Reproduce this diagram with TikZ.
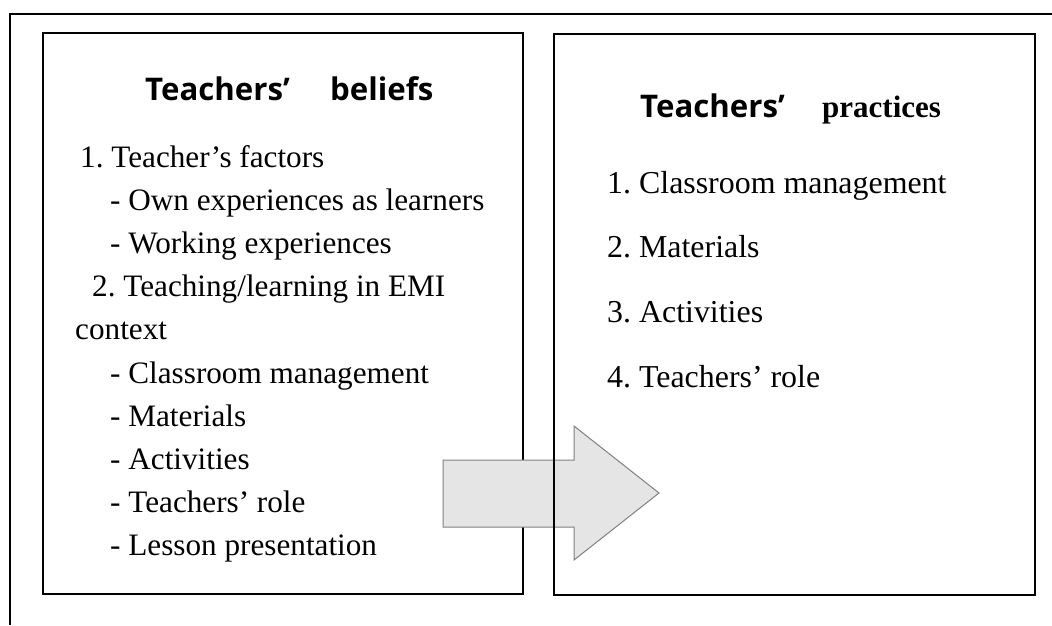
\documentclass[tikz,border=0pt]{standalone}
\usepackage{fontspec}
\setmainfont{Liberation Serif}
\newfontfamily\headsans{Open Sans}[UprightFont={* Bold}]
\frenchspacing
\begin{document}
\begin{tikzpicture}[x=1pt,y=-1pt,
  frameline/.style={line width=1.6pt,black},
  boxline/.style={line width=2pt,black},
  bigarrow/.style={draw=black!50,line width=1pt,fill=black!10},
  item/.style={anchor=base west,inner sep=0pt,font=\fontsize{31.2}{31.2}\selectfont},
  pitem/.style={anchor=base west,inner sep=0pt,font=\fontsize{31.9}{31.9}\selectfont},
  headA/.style={anchor=base west,inner sep=0pt,font=\headsans\fontsize{31.2}{31.2}\selectfont},
  headB/.style={anchor=base west,inner sep=0pt,font=\bfseries\fontsize{31}{31}\selectfont}]
\useasboundingbox (0,0) rectangle (1052,625);

% outer frame: left and top edges
\coordinate (fbot) at (10,625);
\coordinate (fcorner) at (10,14);
\coordinate (fright) at (1052,14);
\draw[frameline] (fbot) -- (fcorner) -- (fright);

% beliefs box
\draw[boxline] (43,33) rectangle (523,594);

% transfer arrow
\draw[bigarrow] (443,460) -- (574,460) -- (574,426) -- (659,493)
  -- (574,560) -- (574,527) -- (443,527) -- cycle;

% practices box
\draw[boxline] (554,34) rectangle (1035,595);

% beliefs heading and list
\node[headA] (bt1) at (145,100) {Teachers’};
\node[headA] (bt2) at (330,100) {beliefs};
\node[item] (b1) at (80,167) {1. Teacher’s factors};
\node[item] (b2) at (110,210) {- Own experiences as learners};
\node[item] (b3) at (110,253) {- Working experiences};
\node[item] (b4) at (92,296) {2. Teaching/learning in EMI};
\node[item] (b5) at (75,339) {context};
\node[item] (b6) at (110,383) {- Classroom management};
\node[item] (b7) at (110,426) {- Materials};
\node[item] (b8) at (110,469) {- Activities};
\node[item] (b9) at (110,512) {- Teachers’ role};
\node[item] (b10) at (110,555) {- Lesson presentation};

% practices heading and list
\node[headA] (pt1) at (640,117) {Teachers’};
\node[headB] (pt2) at (822,117) {practices};
\node[pitem] (p1) at (607,193) {1. Classroom management};
\node[pitem] (p2) at (607,257.5) {2. Materials};
\node[pitem] (p3) at (607,322.5) {3. Activities};
\node[pitem] (p4) at (607,387) {4. Teachers’ role};
\end{tikzpicture}
\end{document}
